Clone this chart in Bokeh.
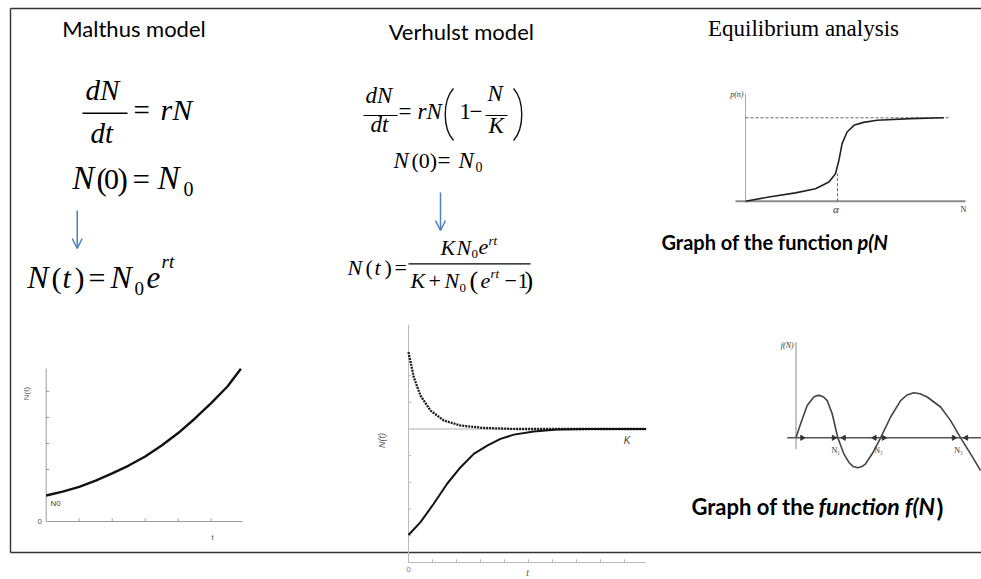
import math
from bokeh.plotting import figure
from bokeh.models import Range1d, Arrow, OpenHead
from bokeh.core.properties import value
from bokeh.embed import file_html
from bokeh.resources import INLINE

# ---------------- data ----------------
# Malthus model: exponential growth N(t)
malthus_t = [0, 0.5, 1, 1.5, 2, 2.5, 3, 3.5, 4, 4.5, 5, 5.5, 5.9]
malthus_n = [1.0, 1.15, 1.33, 1.57, 1.85, 2.15, 2.5, 2.92, 3.4, 3.95, 4.55, 5.2, 5.87]
malthus_xticks = [1, 2, 3, 4, 5]
malthus_yticks = [1, 2, 3, 4, 5]

# Verhulst model: logistic curves approaching K
verhulst_K = 5.0
verhulst_t_low = [0, 0.5, 1.05, 1.61, 2.17, 2.72, 3.28, 3.83, 4.39, 5.22, 6.2, 7.5, 9.9]
verhulst_n_low = [1.03, 1.51, 2.2, 2.95, 3.57, 4.07, 4.38, 4.63, 4.79, 4.91, 4.98, 5.0, 5.0]
verhulst_t_high = [0, 0.22, 0.5, 0.92, 1.47, 2.17, 3.14, 4.53, 6.0, 9.9]
verhulst_n_high = [7.88, 6.94, 6.25, 5.69, 5.32, 5.13, 5.04, 5.0, 5.0, 5.0]
verhulst_xticks = [1, 2, 3, 4, 5, 6, 7, 8, 9]
verhulst_yticks = [1, 2, 3, 4, 6, 7]

# Equilibrium analysis: p(N)
pn_x = [0, 1.17, 2.5, 3.5, 4.17, 4.5, 4.67, 4.83, 5.08, 5.42, 5.9, 6.58, 8.25, 9.92]
pn_y = [0, 0.05, 0.1, 0.15, 0.23, 0.33, 0.49, 0.69, 0.83, 0.91, 0.945, 0.97, 0.99, 1.0]
pn_alpha = 4.6
pn_alpha_y = 0.33
pn_level = 1.0

# Equilibrium analysis: f(N)
fn_x = [0, 0.23, 0.56, 0.89, 1.05, 1.19, 1.38, 1.56, 1.81, 2.09, 2.39, 2.64, 2.86, 3.09,
        3.3, 3.48, 3.81, 4.23, 4.73, 5.23, 5.55, 5.89, 6.2, 6.56, 7.23, 7.73, 8.23, 8.73, 9.23]
fn_y = [0, 0.35, 0.81, 1.02, 1.055, 1.06, 1.02, 0.93, 0.6, 0, -0.4, -0.61, -0.72, -0.75,
        -0.72, -0.65, -0.4, 0, 0.52, 0.93, 1.07, 1.125, 1.1, 1.02, 0.77, 0.43, 0, -0.4, -0.82]
fn_roots = [2.09, 4.23, 8.23]
fn_root_labels = ["N\u2081", "N\u2082", "N\u2083"]
fn_flow_x = [0.31, 1.89, 2.39, 3.93, 4.39, 7.89, 8.51]
fn_flow_dir = [1, 1, -1, -1, 1, 1, -1]

# ---------------- page ----------------
W, H = 981, 579
p = figure(width=W, height=H, x_range=Range1d(0, W), y_range=Range1d(H, 0),
           x_axis_type=None, y_axis_type=None, toolbar_location=None,
           output_backend="svg", min_border=0, outline_line_color=None)
p.xgrid.visible = False
p.ygrid.visible = False
p.background_fill_color = "white"

SERIF = value("Liberation Serif")
SANS = value("Lato")
HELV = value("Liberation Sans")


def txt(x, y, s, size, font=SERIF, style="normal", color="#000000", align="left",
        base=True, angle=0):
    """y is the alphabetic baseline when base=True, otherwise the text middle."""
    if base:
        k = 0.42 if font == SANS else 0.37
        y = y - k * size
    p.text(x=[x], y=[y], text=[s], text_font=font, text_font_size=f"{size}px",
           text_font_style=style, text_color=color, text_align=align,
           text_baseline="middle", angle=angle)


def bar(x0, x1, y, w=1.3):
    p.segment(x0=[x0], y0=[y], x1=[x1], y1=[y], line_color="black", line_width=w)


# border of the slide frame
p.segment(x0=[10, 10, 10], y0=[8, 8, 552], x1=[10, 981, 981], y1=[552, 8, 552],
          line_color="#333333", line_width=1.4)

# ---------------- Malthus column ----------------
txt(133.5, 37.5, "Malthus model", 22, SANS, align="center")
txt(85, 100, "dN", 29, style="italic")
bar(82, 127, 112.7, 1.5)
txt(90, 143.3, "dt", 29, style="italic")
txt(133, 120, "=", 29)
txt(160, 120, "rN", 30, style="italic")
txt(71.7, 190, "N", 33, style="italic")
txt(96, 190, "(", 31)
txt(103.5, 190, "0", 30)
txt(117, 190, ")", 31)
txt(132, 190, "=", 31)
txt(157, 190, "N", 33, style="italic")
txt(183, 196, "0", 20)
p.add_layout(Arrow(x_start=76.7, y_start=210, x_end=76.7, y_end=248, line_color="#4f81bd",
                   line_width=1.5, end=OpenHead(size=10, line_color="#4f81bd", line_width=1.5)))
txt(26.7, 288.3, "N", 32, style="italic")
txt(51, 288.3, "(", 30)
txt(62, 288.3, "t", 30, style="italic")
txt(74, 288.3, ")", 30)
txt(88, 288.3, "=", 30)
txt(110, 288.3, "N", 32, style="italic")
txt(134, 295, "0", 19)
txt(146, 288.3, "e", 31, style="italic")
txt(161, 268, "rt", 19, style="italic")

# Malthus chart
ms = p.subplot(x_source=Range1d(0, 5.94), y_source=Range1d(0, 5.87),
               x_target=Range1d(45.7, 241.7), y_target=Range1d(521, 368.3))
ms.segment(x0=[0, 0], y0=[0, 0], x1=[5.94, 0], y1=[0, 5.87], line_color="#9a9a9a", line_width=1)
ms.segment(x0=malthus_xticks, y0=[0] * len(malthus_xticks), x1=malthus_xticks,
           y1=[0.12] * len(malthus_xticks), line_color="#9a9a9a", line_width=1)
ms.segment(x0=[0] * len(malthus_yticks), y0=malthus_yticks, x1=[0.09] * len(malthus_yticks),
           y1=malthus_yticks, line_color="#9a9a9a", line_width=1)
ms.line(malthus_t, malthus_n, line_color="#111111", line_width=2.4)
txt(41.5, 521, "0", 8, HELV, color="#555555", align="right", base=False)
txt(50, 503, "N0", 8, HELV, color="#444444", base=False)
txt(212, 537, "t", 8, HELV, color="#555555", align="center", base=False)
txt(26, 393, "N(t)", 8, HELV, color="#555555", align="center", base=False, angle=math.pi / 2)

# ---------------- Verhulst column ----------------
txt(460.8, 40, "Verhulst model", 22, SANS, align="center")
txt(365, 103.3, "dN", 23, style="italic")
bar(363, 397, 115, 1.2)
txt(370, 132.7, "dt", 23, style="italic")
txt(398, 120, "=", 23)
txt(417, 120, "rN", 23, style="italic")
p.bezier(x0=[453, 513], y0=[88, 88], x1=[453, 513], y1=[140, 140],
         cx0=[442, 524], cy0=[100, 100], cx1=[442, 524], cy1=[128, 128],
         line_color="#111111", line_width=1.4)
txt(459, 120, "1", 23)
txt(469, 120, "\u2212", 23)
txt(487, 101.7, "N", 23, style="italic")
bar(485, 507, 115, 1.2)
txt(488, 133.3, "K", 23, style="italic")
txt(393, 168.3, "N", 23, style="italic")
txt(411, 168.3, "(0)", 22)
txt(437, 168.3, "=", 23)
txt(458, 168.3, "N", 23, style="italic")
txt(475, 172, "0", 14)
p.add_layout(Arrow(x_start=440, y_start=192, x_end=440, y_end=230, line_color="#4f81bd",
                   line_width=1.5, end=OpenHead(size=10, line_color="#4f81bd", line_width=1.5)))
txt(347, 275, "N", 22, style="italic")
txt(365, 275, "(", 22)
txt(374, 275, "t", 22, style="italic")
txt(384, 275, ")", 22)
txt(394, 275, "=", 22)
txt(440, 255, "K", 22, style="italic")
txt(456, 255, "N", 22, style="italic")
txt(471, 258.5, "0", 13)
txt(478, 255, "e", 22, style="italic")
txt(488, 245, "rt", 13, style="italic")
bar(408, 530, 263.3, 1.2)
txt(410, 288.3, "K", 22, style="italic")
txt(428, 288.3, "+", 22)
txt(444, 288.3, "N", 22, style="italic")
txt(459, 292, "0", 13)
txt(469, 290, "(", 26)
txt(480, 288.3, "e", 22, style="italic")
txt(490, 278, "rt", 13, style="italic")
txt(504, 288.3, "\u2212", 22)
txt(517, 288.3, "1", 22)
txt(524, 290, ")", 26)

# Verhulst chart
vs = p.subplot(x_source=Range1d(0, 9.9), y_source=Range1d(0, 8.9),
               x_target=Range1d(408, 645.6), y_target=Range1d(562, 324.4))
vs.segment(x0=[0, 0], y0=[0, 0], x1=[9.9, 0], y1=[0, 8.9], line_color="#bbbbbb", line_width=1)
vs.segment(x0=verhulst_xticks, y0=[0] * len(verhulst_xticks), x1=verhulst_xticks,
           y1=[0.12] * len(verhulst_xticks), line_color="#bbbbbb", line_width=1)
vs.segment(x0=[0] * len(verhulst_yticks), y0=verhulst_yticks, x1=[0.12] * len(verhulst_yticks),
           y1=verhulst_yticks, line_color="#bbbbbb", line_width=1)
vs.segment(x0=[0], y0=[verhulst_K], x1=[9.9], y1=[verhulst_K], line_color="#c8c8c8", line_width=1.6)
vs.line(verhulst_t_high, verhulst_n_high, line_color="#1a1a1a", line_width=2.3, line_dash="2 1")
vs.line(verhulst_t_low, verhulst_n_low, line_color="#111111", line_width=2.0)
txt(408, 569, "0", 8, HELV, color="#777777", align="center", base=False)
txt(527, 572, "t", 9, HELV, style="italic", color="#555555", align="center", base=False)
txt(626.7, 440, "K", 10, HELV, style="italic", color="#444444", align="center", base=False)
txt(381.7, 440, "N(t)", 9, HELV, style="italic", color="#555555", align="center",
    base=False, angle=math.pi / 2)

# ---------------- Equilibrium column ----------------
txt(803, 36.5, "Equilibrium analysis", 23, SERIF, align="center")

ps = p.subplot(x_source=Range1d(0, 11), y_source=Range1d(0, 1),
               x_target=Range1d(745, 965), y_target=Range1d(200.7, 117.3))
ps.segment(x0=[-0.5], y0=[0], x1=[11], y1=[0], line_color="#8a8a8a", line_width=2)
ps.segment(x0=[0], y0=[-0.02], x1=[0], y1=[1.29], line_color="#aaaaaa", line_width=1)
ps.segment(x0=[0], y0=[pn_level], x1=[10.25], y1=[pn_level], line_color="#666666",
           line_width=1, line_dash="3 2")
ps.segment(x0=[pn_alpha], y0=[0], x1=[pn_alpha], y1=[pn_alpha_y], line_color="#666666",
           line_width=1, line_dash="3 2")
ps.line(pn_x, pn_y, line_color="#222222", line_width=1.6)
txt(743, 94, "p(n)", 8, SERIF, style="italic", color="#333333", align="right", base=False)
txt(835.5, 208.5, "\u03b1", 11, SERIF, style="italic", color="#333333", align="center",
    base=False)
txt(963, 208.5, "N", 8, SERIF, color="#333333", align="center", base=False)
txt(661, 250, "Graph of the function ", 20, SANS, style="bold")
txt(857, 250, "p(N", 20, SANS, style="bold italic")

fs = p.subplot(x_source=Range1d(0, 9.25), y_source=Range1d(0, 1),
               x_target=Range1d(795.5, 980.5), y_target=Range1d(437.3, 397.3))
fs.segment(x0=[-0.44], y0=[0], x1=[9.3], y1=[0], line_color="#555555", line_width=1.5)
fs.segment(x0=[0], y0=[-0.28], x1=[0], y1=[2.39], line_color="#888888", line_width=1)
fs.line(fn_x, fn_y, line_color="#444444", line_width=1.6)
fs.scatter(x=fn_flow_x, y=[0] * len(fn_flow_x), marker="triangle", size=5,
           angle=[-d * math.pi / 2 for d in fn_flow_dir], fill_color="#333333",
           line_color="#333333")
fs.text(x=fn_roots, y=[-0.2] * 3, text=fn_root_labels, text_font=SERIF, text_font_size="8px",
        text_color="#333333", text_align="center", text_baseline="top", x_offset=-2)
txt(786.7, 345, "f(N)", 8, SERIF, style="italic", color="#333333", align="center", base=False)
txt(691, 515, "Graph of the ", 22, SANS, style="bold")
txt(818, 515, "function f(N", 23, SANS, style="bold italic")
txt(936, 517, ")", 25, SANS, style="bold")

open("out.html", "w").write(file_html(p, INLINE))
